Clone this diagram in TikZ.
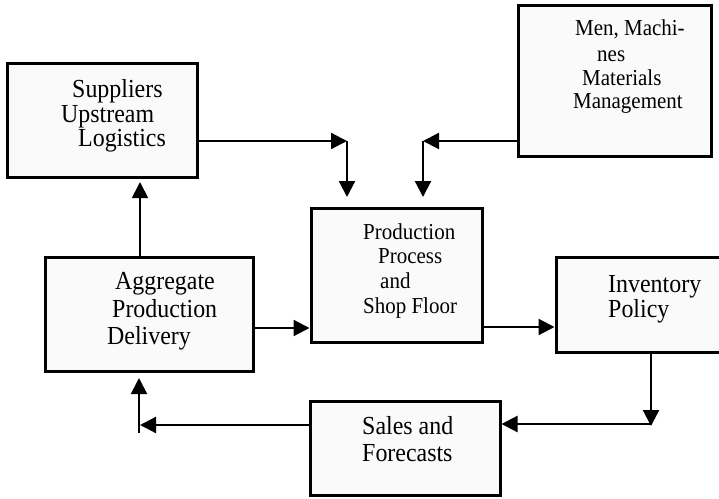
\documentclass[tikz,border=0pt]{standalone}
\usepackage{fontspec}
\setmainfont{Liberation Serif}[FakeStretch=0.92]
\usetikzlibrary{arrows.meta,calc}
\begin{document}
\begin{tikzpicture}[x=1pt,y=-1pt,
  box/.style={draw=black,line width=3pt,fill=black!2,rectangle,inner sep=0pt},
  lbl/.style={anchor=base west,inner sep=0pt,font=\fontsize{26}{26}\selectfont},
  lbls/.style={anchor=base west,inner sep=0pt,font=\fontsize{22.8}{22.8}\selectfont},
  arr/.style={line width=2.2pt,-{Triangle[length=16pt,width=16pt]}}]
\useasboundingbox (0,0) rectangle (719,498);
\begin{scope}
\clip (0,0) rectangle (719,498);
% boxes
\node[box,minimum width=190pt,minimum height=114pt] (sup) at (102,120) {};
\node[box,minimum width=193pt,minimum height=151pt] (men) at (614.5,80.5) {};
\node[box,minimum width=171pt,minimum height=134pt] (prod) at (396.5,275) {};
\node[box,minimum width=208pt,minimum height=114pt] (agg) at (149,314) {};
\node[box,minimum width=169pt,minimum height=95pt] (inv) at (640.5,304.5) {};
\node[box,minimum width=190pt,minimum height=94pt] (sales) at (405,448) {};
\end{scope}
% texts
\node[lbl] (t1) at (72,97) {Suppliers};
\node[lbl] (t2) at (61,122) {Upstream};
\node[lbl] (t3) at (78,146) {Logistics};
\node[lbls] (t4) at (575,35) {Men, Machi-};
\node[lbls] (t5) at (597,61) {nes};
\node[lbls] (t6) at (582,85) {Materials};
\node[lbls] (t7) at (573,108) {Management};
\node[lbls] (t8) at (363,239) {Production};
\node[lbls] (t9) at (378,263) {Process};
\node[lbls] (t10) at (380,288) {and};
\node[lbls] (t11) at (363,313) {Shop Floor};
\node[lbl] (t12) at (115,289) {Aggregate};
\node[lbl] (t13) at (112,317) {Production};
\node[lbl] (t14) at (107,344) {Delivery};
\node[lbl] (t15) at (608,292) {Inventory};
\node[lbl] (t16) at (608,317) {Policy};
\node[lbl] (t17) at (362,434) {Sales and};
\node[lbl] (t18) at (362,461) {Forecasts};
% connector coordinates
\coordinate (c1) at (347,141);
\coordinate (c1d) at (347,197);
\coordinate (c2) at (423,141);
\coordinate (c2d) at (423,197);
\coordinate (c3) at (140,182);
\coordinate (c4) at (651,426);
\coordinate (c5) at (651,424);
\coordinate (c6) at (140,425);
\coordinate (c7) at (139,433);
\coordinate (c8) at (139,378);
% connectors
\draw[arr] (sup.east |- c1) -- (c1);
\draw[arr] (c1) -- (c1d);
\draw[arr] (men.west |- c2) -- (c2);
\draw[arr] (c2) -- (c2d);
\draw[arr,line width=1.8pt] (agg.north -| c3) -- (c3);
\draw[arr] ($(agg.east)+(0,14)$) -- ($(prod.west |- agg.east)+(0,14)$);
\draw[arr] ($(prod.east)+(0,52)$) -- ($(inv.west |- prod.east)+(0,52)$);
\draw[arr] (inv.south -| c4) -- (c4);
\draw[arr] (c5) -- (sales.east |- c5);
\draw[arr] (sales.west |- c6) -- (c6);
\draw[arr,line width=1.8pt] (c7) -- (c8);
\end{tikzpicture}
\end{document}
